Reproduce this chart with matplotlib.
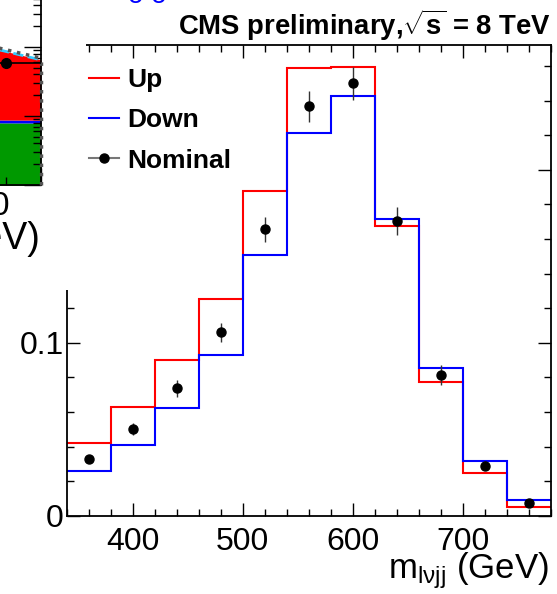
import matplotlib
matplotlib.use("Agg")
import matplotlib.pyplot as plt
from matplotlib.lines import Line2D
from matplotlib.patches import Rectangle
from matplotlib.ticker import MultipleLocator, FuncFormatter
import numpy as np

plt.rcParams['font.family'] = ['Liberation Sans', 'DejaVu Sans']
plt.rcParams['mathtext.fontset'] = 'custom'
plt.rcParams['mathtext.rm'] = 'Liberation Sans'
plt.rcParams['mathtext.it'] = 'Liberation Sans:italic'
plt.rcParams['mathtext.bf'] = 'Liberation Sans:bold'

# main plot: m_lvjj shape, up / down variations and nominal
edges = [340, 380, 420, 460, 500, 540, 580, 620, 660, 700, 740, 780]
centers = [360, 400, 440, 480, 520, 560, 600, 640, 680, 720, 760]
up = [0.042, 0.063, 0.090, 0.1255, 0.188, 0.259, 0.2595, 0.1675, 0.0775, 0.0245, 0.0052]
down = [0.026, 0.041, 0.062, 0.093, 0.1505, 0.2216, 0.2426, 0.1715, 0.0852, 0.0318, 0.0091]
nominal = [0.0326, 0.050, 0.0736, 0.106, 0.1656, 0.2368, 0.250, 0.1703, 0.0813, 0.0289, 0.0075]
nominal_err = [0.002, 0.0036, 0.0048, 0.0055, 0.0072, 0.0089, 0.0094, 0.008, 0.0058, 0.0025, 0.0015]

# neighbouring plot on the left, only its corner shows
frag_x = [900, 1000]
frag_green = [8.0, 7.9]
frag_blue = [8.8, 8.7]
frag_total = [115, 65]
frag_pt_x = [950]
frag_pt_y = [59]
frag_pt_yerr = [8]
frag_pt_xerr = [50]

W, H = 557, 594
fig = plt.figure(figsize=(W / 100, H / 100), dpi=100)


def px(x0, y0, x1, y1):
    # pixel box (origin top-left) -> figure rect
    return [x0 / W, 1 - y1 / H, (x1 - x0) / W, (y1 - y0) / H]


ax = fig.add_axes(px(66.5, 44.5, 551, 515.7))
ax.stairs(up, edges, color='#ff0000', lw=1.5, baseline=None)
ax.stairs(down, edges, color='#0000ff', lw=1.5, baseline=None)
ax.errorbar(centers, nominal, yerr=nominal_err, fmt='o', color='k', ms=6.5,
            elinewidth=1, ecolor='#333333')
ax.set_xlim(340, 780)
ax.set_ylim(0, 0.2725)
ax.xaxis.set_major_locator(MultipleLocator(100))
ax.xaxis.set_minor_locator(MultipleLocator(20))
ax.yaxis.set_major_locator(MultipleLocator(0.1))
ax.yaxis.set_minor_locator(MultipleLocator(0.02))
ax.yaxis.set_major_formatter(FuncFormatter(lambda v, p: f'{v:g}'))
ax.tick_params(which='both', direction='in', top=True, right=True, labelsize=23, width=1)
ax.tick_params(which='major', length=9.5)
ax.tick_params(which='minor', length=5)
ax.tick_params(axis='x', pad=8)
ax.tick_params(axis='y', pad=2)
for s in ax.spines.values():
    s.set_linewidth(1.3)

handles = [Line2D([], [], color='#ff0000', lw=1.5),
           Line2D([], [], color='#0000ff', lw=1.5),
           Line2D([], [], color='#777777', lw=1.5, marker='o', mfc='k', mec='k', ms=6.5)]
ax.legend(handles, ['Up', 'Down', 'Nominal'], loc='upper left',
          bbox_to_anchor=(89 / W, 1 - 68 / H), bbox_transform=fig.transFigure,
          frameon=False, prop={'weight': 'bold', 'size': 19}, handlelength=1.15,
          handletextpad=0.3, labelspacing=0.62, borderpad=0, borderaxespad=0)

fig.text(551 / W, 1 - 35 / H, r'CMS preliminary,$\sqrt{\mathbf{s}}$ = 8 TeV',
         ha='right', va='baseline', fontsize=19.8, fontweight='bold')
fig.text(549 / W, 1 - 578 / H, r'm$_{\mathregular{l\nu jj}}$ (GeV)',
         ha='right', va='baseline', fontsize=25)

# white area where the left plot overlaps
fig.add_artist(Rectangle((0, 1 - 290 / H), 86 / W, 290 / H, transform=fig.transFigure,
                         facecolor='white', edgecolor='none', zorder=1))

fx = fig.add_axes(px(-314, -115, 41, 185))
fx.set_zorder(2)
fx.set_xlim(500, 1000)
fx.set_yscale('log')
fx.set_ylim(1, 10 ** (300 / 69))
fx.fill_between(frag_x, 0.1, frag_green, color='#009900', lw=0)
fx.fill_between(frag_x, frag_green, frag_blue, color='#0000ff', lw=0)
fx.fill_between(frag_x, frag_blue, frag_total, color='#ff0000', lw=0)
fx.plot(frag_x, frag_total, color='#33ccff', lw=2, ls='--')
fx.plot(frag_x, np.array(frag_total) * 1.06, color='#555555', lw=2.5, ls=':')
fx.plot([frag_x[-1], frag_x[-1]], [1, frag_total[-1]], color='#555555', lw=2.5,
        ls=':', clip_on=False, zorder=5)
fx.errorbar(frag_pt_x, frag_pt_y, yerr=frag_pt_yerr, xerr=frag_pt_xerr, fmt='o',
            color='k', ms=7, elinewidth=1.2, zorder=6)
fx.xaxis.set_major_locator(MultipleLocator(100))
fx.xaxis.set_minor_locator(MultipleLocator(50))
fx.tick_params(which='both', direction='in', right=True, top=True,
               labelbottom=False, labelleft=False, width=1)
fx.tick_params(which='major', length=12)
fx.tick_params(which='minor', length=6)
for s in fx.spines.values():
    s.set_linewidth(1.3)

fig.text(0, 1 - 215 / H, '0', ha='center', va='baseline', fontsize=24, zorder=4)
fig.text(40 / W, 1 - 249 / H, 'm (GeV)', ha='right', va='baseline', fontsize=27, zorder=4)
fig.text(147 / W, 1 - 3 / H, 'o o', color='#0000ff', ha='center', va='baseline',
         fontsize=20, zorder=4)

fig.savefig('out.png', dpi=100)
